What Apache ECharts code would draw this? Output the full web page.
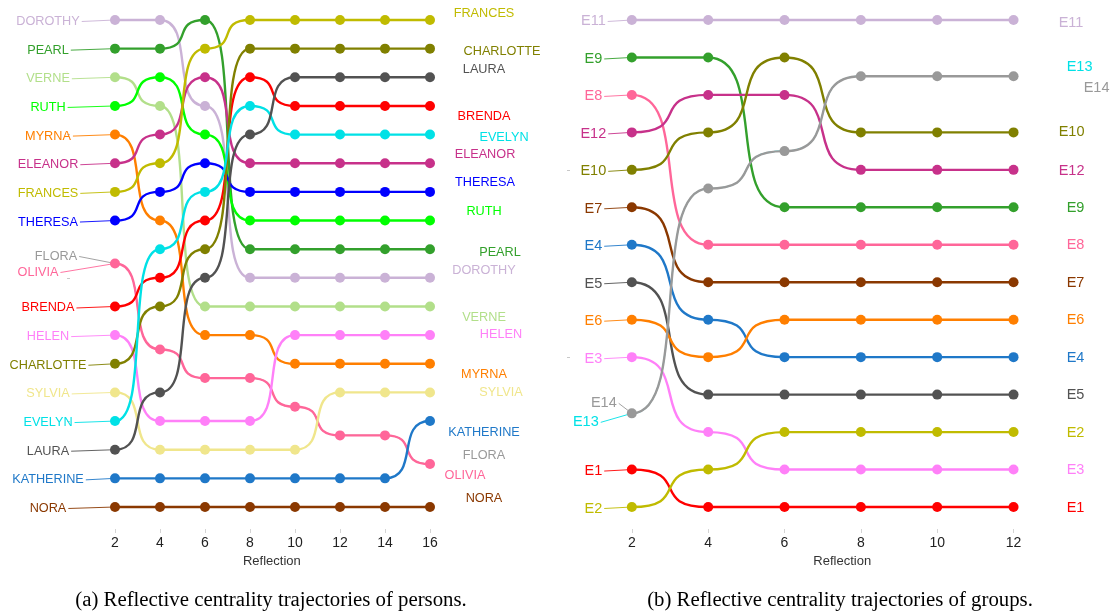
<!DOCTYPE html>
<html>
<head>
<meta charset="utf-8">
<script src="https://cdn.jsdelivr.net/npm/echarts@6/dist/echarts.min.js"></script>
<style>
  html, body { margin: 0; padding: 0; background: #ffffff; }
  #chart { width: 1117px; height: 615px; }
</style>
</head>
<body>
<div id="chart"></div>
<script>
// ---------------- data ----------------
// Reflection steps on the x axis
const personSteps = [2, 4, 6, 8, 10, 12, 14, 16];
const groupSteps = [2, 4, 6, 8, 10, 12];

// Rank of each person at every reflection step (1 = most central, ties averaged)
const dorothy   = [1, 1, 4, 10, 10, 10, 10, 10];
const pearl     = [2, 2, 1, 9, 9, 9, 9, 9];
const verne     = [3, 4, 11, 11, 11, 11, 11, 11];
const ruth      = [4, 3, 5, 8, 8, 8, 8, 8];
const myrna     = [5, 8, 12, 12, 13, 13, 13, 13];
const eleanor   = [6, 5, 3, 6, 6, 6, 6, 6];
const frances   = [7, 6, 2, 1, 1, 1, 1, 1];
const theresa   = [8, 7, 6, 7, 7, 7, 7, 7];
const flora     = [9.5, 12.5, 13.5, 13.5, 14.5, 15.5, 15.5, 16.5];
const olivia    = [9.5, 12.5, 13.5, 13.5, 14.5, 15.5, 15.5, 16.5];
const brenda    = [11, 10, 8, 3, 4, 4, 4, 4];
const helen     = [12, 15, 15, 15, 12, 12, 12, 12];
const charlotte = [13, 11, 9, 2, 2, 2, 2, 2];
const sylvia    = [14, 16, 16, 16, 16, 14, 14, 14];
const evelyn    = [15, 9, 7, 4, 5, 5, 5, 5];
const laura     = [16, 14, 10, 5, 3, 3, 3, 3];
const katherine = [17, 17, 17, 17, 17, 17, 17, 15];
const nora      = [18, 18, 18, 18, 18, 18, 18, 18];

// Rank of each group at every reflection step
const e11 = [1, 1, 1, 1, 1, 1];
const e9  = [2, 2, 6, 6, 6, 6];
const e8  = [3, 7, 7, 7, 7, 7];
const e12 = [4, 3, 3, 5, 5, 5];
const e10 = [5, 4, 2, 4, 4, 4];
const e7  = [6, 8, 8, 8, 8, 8];
const e4  = [7, 9, 10, 10, 10, 10];
const e5  = [8, 11, 11, 11, 11, 11];
const e6  = [9, 10, 9, 9, 9, 9];
const e3  = [10, 12, 13, 13, 13, 13];
const e13 = [11.5, 5.5, 4.5, 2.5, 2.5, 2.5];
const e14 = [11.5, 5.5, 4.5, 2.5, 2.5, 2.5];
const e1  = [13, 14, 14, 14, 14, 14];
const e2  = [14, 13, 12, 12, 12, 12];

const persons = [
  ['DOROTHY', dorothy], ['PEARL', pearl], ['VERNE', verne], ['RUTH', ruth],
  ['MYRNA', myrna], ['ELEANOR', eleanor], ['FRANCES', frances], ['THERESA', theresa],
  ['FLORA', flora], ['OLIVIA', olivia], ['BRENDA', brenda], ['HELEN', helen],
  ['CHARLOTTE', charlotte], ['SYLVIA', sylvia], ['EVELYN', evelyn], ['LAURA', laura],
  ['KATHERINE', katherine], ['NORA', nora]
];
const groups = [
  ['E11', e11], ['E9', e9], ['E8', e8], ['E12', e12], ['E10', e10], ['E7', e7],
  ['E4', e4], ['E5', e5], ['E6', e6], ['E3', e3], ['E13', e13], ['E14', e14],
  ['E1', e1], ['E2', e2]
];

// ---------------- styles ----------------
const palette = {
  DOROTHY: '#CAB2D6', PEARL: '#33A02C', VERNE: '#B2DF8A', RUTH: '#00FF00',
  MYRNA: '#FF7F00', ELEANOR: '#C7318A', FRANCES: '#C0BB00', THERESA: '#0000FF',
  FLORA: '#999999', OLIVIA: '#FF6699', BRENDA: '#FF0000', HELEN: '#FF80F8',
  CHARLOTTE: '#808000', SYLVIA: '#F0E68C', EVELYN: '#00E1E6', LAURA: '#525252',
  KATHERINE: '#1F78C8', NORA: '#8A3800',
  E11: '#CAB2D6', E9: '#33A02C', E8: '#FF6699', E12: '#C7318A', E10: '#808000',
  E7: '#8A3800', E4: '#1F78C8', E5: '#525252', E6: '#FF7F00', E3: '#FF80F8',
  E13: '#00E1E6', E14: '#999999', E1: '#FF0000', E2: '#C0BB00'
};
// Trajectories that coincide with a later one are drawn slimmer underneath it
const underneath = { FLORA: true, E13: true };

// Label placement relative to the first / last point: [dx to text centre, dy]
const personLeftDefault = [-67, 1.5];
const personLeftNudge = { FLORA: [-59, -7], OLIVIA: [-77, 9] };
const personRightNudge = {
  FRANCES: [54, -7], CHARLOTTE: [72, 3], LAURA: [54, -8], BRENDA: [54, 11],
  EVELYN: [74, 3], ELEANOR: [55, -9], THERESA: [55, -9], RUTH: [54, -9],
  PEARL: [70, 3], DOROTHY: [54, -7], VERNE: [54, 11], HELEN: [71, -1],
  MYRNA: [54, 11], SYLVIA: [71, 0], KATHERINE: [54, 11], FLORA: [54, -9],
  OLIVIA: [35, 11], NORA: [54, -9]
};
const groupLeftDefault = [-38.5, 1.5];
const groupLeftNudge = { E14: [-28, -10], E13: [-46, 9] };
const groupRightDefault = [62, 0.5];
const groupRightNudge = {
  E11: [57.5, 3], E13: [66, -9], E14: [83, 12], E10: [58, 0], E12: [58, 1]
};

const FONT = '"Liberation Sans", Arial, sans-serif';
const measureCtx = document.createElement('canvas').getContext('2d');
function textWidth(str, size) {
  measureCtx.font = size + 'px ' + FONT;
  return measureCtx.measureText(str).width;
}

// Smooth bump curves, drawn segment by segment between consecutive ranks,
// with the name labels attached to the first and last points.
function curveSeries(panel, name, ranks, steps, opts) {
  const color = palette[name];
  const width = underneath[name] ? 1.2 : 2.4;
  const leftPos = opts.leftNudge[name] || opts.leftDefault;
  const rightPos = opts.rightNudge[name] || opts.rightDefault;
  return {
    type: 'custom',
    name: name,
    xAxisIndex: panel,
    yAxisIndex: panel,
    z: 2,
    silent: true,
    clip: false,
    data: steps.map((s, i) => [s, ranks[i]]),
    renderItem: function (params, api) {
      const i = params.dataIndexInside;
      const n = params.dataInsideLength;
      const p = api.coord([api.value(0), api.value(1)]);
      const kids = [];
      if (i < n - 1) {
        const q = api.coord([api.value(0, i + 1), api.value(1, i + 1)]);
        const h = 0.78 * (q[0] - p[0]);
        kids.push({
          type: 'bezierCurve',
          shape: { x1: p[0], y1: p[1], cpx1: p[0] + h, cpy1: p[1], cpx2: q[0] - h, cpy2: q[1], x2: q[0], y2: q[1] },
          style: { stroke: color, lineWidth: width, fill: 'none' }
        });
      }
      if (i === 0) {
        const cx = p[0] + leftPos[0];
        const cy = p[1] + leftPos[1];
        const w = textWidth(name, opts.fontSize);
        kids.push({
          type: 'line',
          shape: { x1: cx + w / 2 + 2, y1: cy, x2: p[0], y2: p[1] },
          style: { stroke: color, lineWidth: 0.9 }
        });
        kids.push({
          type: 'text', x: cx, y: cy,
          style: { text: name, fill: color, font: opts.fontSize + 'px ' + FONT, align: 'center', verticalAlign: 'middle' }
        });
      }
      if (i === n - 1) {
        kids.push({
          type: 'text', x: p[0] + rightPos[0], y: p[1] + rightPos[1],
          style: { text: name, fill: color, font: opts.fontSize + 'px ' + FONT, align: 'center', verticalAlign: 'middle' }
        });
      }
      return { type: 'group', children: kids };
    }
  };
}

function pointSeries(panel, name, ranks, steps) {
  return {
    type: 'scatter',
    name: name + ' points',
    xAxisIndex: panel,
    yAxisIndex: panel,
    z: 3,
    silent: true,
    symbol: 'circle',
    symbolSize: underneath[name] ? 7 : 10,
    itemStyle: { color: palette[name], opacity: 1 },
    data: steps.map((s, i) => [s, ranks[i]])
  };
}

const personOpts = { leftDefault: personLeftDefault, leftNudge: personLeftNudge, rightDefault: [54, 0], rightNudge: personRightNudge, fontSize: 12.7 };
const groupOpts = { leftDefault: groupLeftDefault, leftNudge: groupLeftNudge, rightDefault: groupRightDefault, rightNudge: groupRightNudge, fontSize: 14.5 };

const series = [];
persons.forEach(([nm, r]) => series.push(curveSeries(0, nm, r, personSteps, personOpts)));
groups.forEach(([nm, r]) => series.push(curveSeries(1, nm, r, groupSteps, groupOpts)));
persons.forEach(([nm, r]) => series.push(pointSeries(0, nm, r, personSteps)));
groups.forEach(([nm, r]) => series.push(pointSeries(1, nm, r, groupSteps)));

function xAxisFor(panel, steps, min, max, namePad) {
  return {
    gridIndex: panel, type: 'value', min: min, max: max,
    axisLine: { show: false },
    splitLine: { show: false },
    axisTick: { show: true, length: 4, lineStyle: { color: '#d4d4d4', width: 1 }, customValues: steps },
    axisLabel: { customValues: steps, fontSize: 14, color: '#222', margin: 7, fontFamily: FONT },
    name: 'Reflection', nameLocation: 'middle', nameGap: 25,
    nameTextStyle: { fontSize: 13, color: '#333', fontFamily: FONT, padding: namePad }
  };
}
function yAxisFor(panel, min, max, ticks) {
  return {
    gridIndex: panel, type: 'value', inverse: true, min: min, max: max,
    axisLine: { show: false },
    splitLine: { show: false },
    axisLabel: { show: false },
    axisTick: { show: true, length: 3, lineStyle: { color: '#c8c8c8', width: 1 }, customValues: ticks }
  };
}

const chart = echarts.init(document.getElementById('chart'), null, { renderer: 'canvas' });
chart.setOption({
  animation: false,
  backgroundColor: '#ffffff',
  grid: [
    { left: 4.75, width: 542.25, top: 5, height: 524 },
    { left: 570, width: 544.5, top: 5, height: 524 }
  ],
  xAxis: [
    xAxisFor(0, personSteps, -2.9, 21.2, [0, 8, 0, 0]),
    xAxisFor(1, groupSteps, 0.38, 14.645, [0, 0, 0, 0])
  ],
  yAxis: [
    yAxisFor(0, 0.4764, 18.768, [5, 10, 15]),
    yAxisFor(1, 0.5996, 14.587, [5, 10])
  ],
  graphic: [
    {
      type: 'text', x: 271, y: 601,
      style: { text: '(a) Reflective centrality trajectories of persons.', fill: '#000', font: '20.8px "Liberation Serif", "Times New Roman", serif', align: 'center', verticalAlign: 'middle' }
    },
    {
      type: 'text', x: 840, y: 601,
      style: { text: '(b) Reflective centrality trajectories of groups.', fill: '#000', font: '20.8px "Liberation Serif", "Times New Roman", serif', align: 'center', verticalAlign: 'middle' }
    }
  ],
  series: series
});
</script>
</body>
</html>
